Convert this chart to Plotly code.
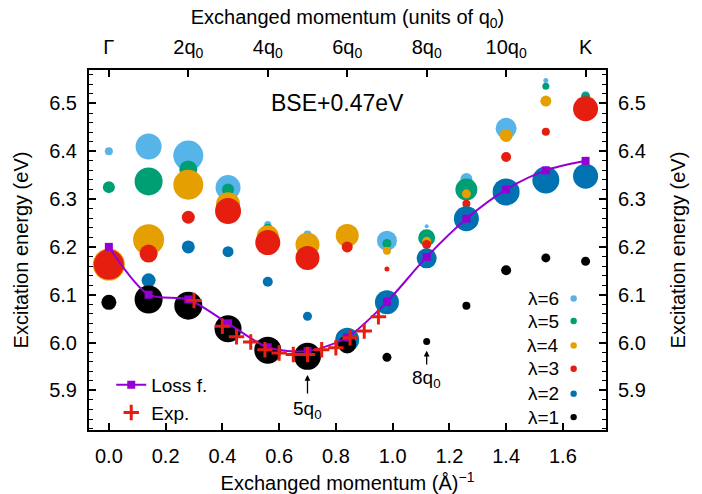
import plotly.graph_objects as go

q0 = 0.14
k = list(range(13))
xk = [q0 * i for i in k]

# lambda = 6 .. 1 : energies (eV) and marker diameters (px, proportional to weight)
e6 = [6.400, 6.410, 6.391, 6.324, 6.247, 6.226, None, 6.213, 6.243, 6.342, 6.448, 6.548, 6.517]
s6 = [8, 26, 30, 25, 7, 8, 0, 20, 4, 12, 21, 5, 8]
e5 = [6.325, 6.337, 6.362, 6.320, 6.238, None, None, 6.207, 6.219, 6.320, None, 6.536, 6.514]
s5 = [12, 28, 18, 12, 10, 0, 0, 9, 17, 22, 0, 7, 9]
e4 = [6.163, 6.215, 6.330, 6.289, 6.222, 6.205, 6.224, 6.192, 6.212, 6.311, 6.433, 6.505, None]
s4 = [32, 31, 30, 24, 22, 24, 23, 8, 9, 9, 13, 11, 0]
e3 = [6.163, 6.186, 6.262, 6.275, 6.209, 6.177, 6.200, 6.154, 6.205, 6.290, 6.388, 6.441, 6.489]
s3 = [30, 18, 13, 26, 25, 24, 11, 5, 9, 8, 10, 8, 25]
e2 = [None, 6.130, 6.200, 6.190, 6.127, 6.055, 6.006, 6.084, 6.176, 6.259, 6.315, 6.340, 6.348]
s2 = [0, 14, 13, 11, 10, 9, 24, 24, 20, 25, 27, 27, 25]
e1 = [6.084, 6.090, 6.077, 6.029, 5.984, 5.971, 5.996, 5.969, 6.002, 6.077, 6.151, 6.177, 6.170]
s1 = [15, 28, 28, 27, 27, 27, 18, 9, 7, 8, 10, 9, 9]

loss = [6.200, 6.100, 6.090, 6.040, 5.990, 5.982, 6.011, 6.085, 6.179, 6.259, 6.320, 6.360, 6.380]

exp_x = [0.30, 0.40, 0.45, 0.50, 0.55, 0.60, 0.65, 0.70, 0.75, 0.80, 0.85, 0.90, 0.95]
exp_y = [6.088, 6.034, 6.012, 6.001, 5.985, 5.978, 5.975, 5.975, 5.985, 5.989, 6.010, 6.024, 6.054]

top_vals = [0, 2 * q0, 4 * q0, 6 * q0, 8 * q0, 10 * q0, 12 * q0]
top_text = ["Γ", "2q<sub>0</sub>", "4q<sub>0</sub>", "6q<sub>0</sub>", "8q<sub>0</sub>", "10q<sub>0</sub>", "K"]

lam_labels = ["λ=6", "λ=5", "λ=4", "λ=3", "λ=2", "λ=1"]
lam_colors = ["#56B4E9", "#009E73", "#E69F00", "#E51E10", "#0072B2", "#000000"]
lam_key_y = [6.092, 6.045, 5.994, 5.945, 5.893, 5.844]

FONT = "Liberation Sans, Arial, Helvetica, sans-serif"
XR = [-0.07, 1.752]
YR = [5.817, 6.570]

fig = go.Figure()
series = [(e6, s6), (e5, s5), (e4, s4), (e3, s3), (e2, s2), (e1, s1)]
for (e, s), c in zip(series, lam_colors):
    fig.add_trace(go.Scatter(x=xk, y=e, mode="markers",
                             marker=dict(size=s, color=c, opacity=1, line=dict(width=0)),
                             showlegend=False, hoverinfo="skip"))

fig.add_trace(go.Scatter(x=xk, y=loss, mode="lines+markers", name="Loss f.",
                         line=dict(color="#9400D3", width=2, shape="spline", smoothing=0.8),
                         marker=dict(symbol="square", size=8, color="#9400D3")))
fig.add_trace(go.Scatter(x=exp_x, y=exp_y, mode="markers", name="Exp.",
                         marker=dict(symbol="cross-thin", size=11, color="#E51E10",
                                     line=dict(width=3, color="#E51E10"))))
# helper trace for the mirrored axes
fig.add_trace(go.Scatter(x=[None], y=[None], xaxis="x2", yaxis="y2", showlegend=False))

ax_common = dict(showline=True, linecolor="black", linewidth=2, ticks="inside",
                 tickcolor="black", tickwidth=1.5, ticklen=7, showgrid=False,
                 zeroline=False, automargin=False,
                 tickfont=dict(size=20, color="black", family=FONT))

fig.update_layout(
    width=702, height=494,
    margin=dict(l=89, r=96, t=70, b=64, autoexpand=False),
    paper_bgcolor="white", plot_bgcolor="white",
    font=dict(family=FONT, color="black"),
    xaxis=dict(range=XR, tickvals=[0, 0.2, 0.4, 0.6, 0.8, 1.0, 1.2, 1.4, 1.6],
               tickformat=".1f", ticklabelstandoff=7,
               title=dict(text="Exchanged momentum (Å)<sup>−1</sup>", font=dict(size=20), standoff=18),
               **ax_common),
    xaxis2=dict(range=XR, overlaying="x", side="top", tickvals=top_vals, ticktext=top_text,
                ticklabelstandoff=6,
                title=dict(text="Exchanged momentum (units of q<sub>0</sub>)", font=dict(size=20), standoff=6),
                **ax_common),
    yaxis=dict(range=YR, dtick=0.1, tickformat=".1f", ticklabelstandoff=6,
               minor=dict(dtick=0.02, ticks="inside", ticklen=4, tickcolor="black", tickwidth=1),
               title=dict(text="Excitation energy (eV)", font=dict(size=20), standoff=15),
               **ax_common),
    yaxis2=dict(range=YR, overlaying="y", side="right", dtick=0.1, tickformat=".1f",
                ticklabelstandoff=6,
                minor=dict(dtick=0.02, ticks="inside", ticklen=4, tickcolor="black", tickwidth=1),
                title=dict(text="Excitation energy (eV)", font=dict(size=20), standoff=26),
                **ax_common),
    legend=dict(x=0.043, y=0.178, xanchor="left", yanchor="top", bgcolor="rgba(0,0,0,0)",
                font=dict(size=19), tracegroupgap=0, itemwidth=30),
    showlegend=True,
)

annotations = [
    dict(x=0.807, y=6.500, xref="x", yref="y", text="BSE+0.47eV", showarrow=False,
         font=dict(size=23)),
    dict(x=0.70, y=5.858, xref="x", yref="y", text="5q<sub>0</sub>", showarrow=False,
         font=dict(size=19)),
    dict(x=1.12, y=5.924, xref="x", yref="y", text="8q<sub>0</sub>", showarrow=False,
         font=dict(size=19)),
    dict(x=0.70, y=5.932, ax=0.70, ay=5.890, xref="x", yref="y", axref="x", ayref="y",
         text="", showarrow=True, arrowhead=2, arrowsize=0.9, arrowwidth=1.3, arrowcolor="black"),
    dict(x=1.12, y=5.983, ax=1.12, ay=5.951, xref="x", yref="y", axref="x", ayref="y",
         text="", showarrow=True, arrowhead=2, arrowsize=0.9, arrowwidth=1.3, arrowcolor="black"),
]
shapes = []
for lab, col, yy in zip(lam_labels, lam_colors, lam_key_y):
    annotations.append(dict(x=1.595, y=yy, xref="x", yref="y", xanchor="right", text=lab,
                            showarrow=False, font=dict(size=19)))
    shapes.append(dict(type="circle", xref="x", yref="y", xsizemode="pixel", ysizemode="pixel",
                       xanchor=1.638, yanchor=yy, x0=-3.2, x1=3.2, y0=-3.2, y1=3.2,
                       fillcolor=col, line=dict(width=0)))
fig.update_layout(annotations=annotations, shapes=shapes)

fig.write_html("out.html")
